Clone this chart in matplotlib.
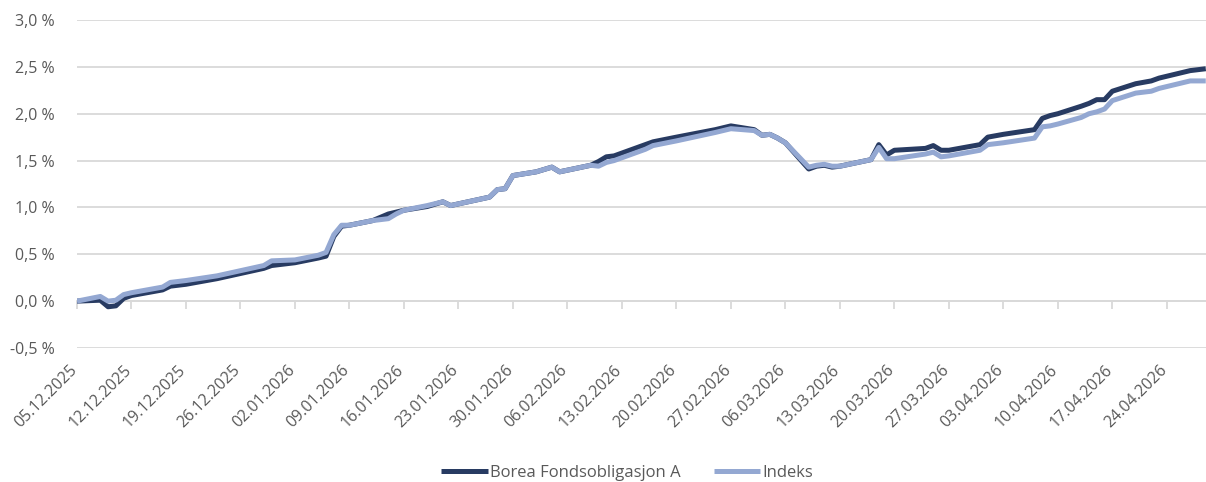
import matplotlib
matplotlib.use("Agg")
import matplotlib.pyplot as plt
import matplotlib.dates as mdates
import matplotlib.transforms as mtransforms
from matplotlib.ticker import FuncFormatter, MultipleLocator
import pandas as pd

# data (percent)
dates = ["05.12.2025", "08.12.2025", "09.12.2025", "10.12.2025", "11.12.2025", "12.12.2025",
         "16.12.2025", "17.12.2025", "19.12.2025", "23.12.2025", "29.12.2025", "30.12.2025",
         "02.01.2026", "05.01.2026", "06.01.2026", "07.01.2026", "08.01.2026", "09.01.2026",
         "12.01.2026", "14.01.2026", "15.01.2026", "16.01.2026", "19.01.2026", "21.01.2026",
         "22.01.2026", "27.01.2026", "28.01.2026", "29.01.2026", "30.01.2026", "02.02.2026",
         "04.02.2026", "05.02.2026", "09.02.2026", "10.02.2026", "11.02.2026", "12.02.2026",
         "13.02.2026", "16.02.2026", "17.02.2026", "20.02.2026", "25.02.2026", "27.02.2026",
         "02.03.2026", "03.03.2026", "04.03.2026", "05.03.2026", "06.03.2026", "09.03.2026",
         "10.03.2026", "11.03.2026", "12.03.2026", "13.03.2026", "17.03.2026", "18.03.2026",
         "19.03.2026", "20.03.2026", "24.03.2026", "25.03.2026", "26.03.2026", "27.03.2026",
         "31.03.2026", "01.04.2026", "03.04.2026", "07.04.2026", "08.04.2026", "09.04.2026",
         "10.04.2026", "13.04.2026", "14.04.2026", "15.04.2026", "16.04.2026", "17.04.2026",
         "20.04.2026", "22.04.2026", "23.04.2026", "27.04.2026", "29.04.2026"]

fund = [0.00, 0.01, -0.06, -0.05, 0.03, 0.06,
        0.12, 0.16, 0.18, 0.24, 0.35, 0.38,
        0.41, 0.46, 0.48, 0.69, 0.80, 0.81,
        0.86, 0.93, 0.95, 0.97, 1.01, 1.06,
        1.02, 1.11, 1.19, 1.20, 1.34, 1.38,
        1.43, 1.38, 1.45, 1.49, 1.54, 1.55,
        1.58, 1.67, 1.70, 1.75, 1.83, 1.87,
        1.83, 1.77, 1.78, 1.74, 1.69, 1.41,
        1.44, 1.45, 1.43, 1.44, 1.51, 1.67,
        1.56, 1.61, 1.63, 1.66, 1.61, 1.61,
        1.67, 1.75, 1.78, 1.83, 1.95, 1.98,
        2.00, 2.08, 2.11, 2.15, 2.15, 2.24,
        2.32, 2.35, 2.38, 2.46, 2.48]

index = [0.00, 0.05, 0.00, 0.01, 0.07, 0.09,
         0.15, 0.20, 0.22, 0.27, 0.38, 0.43,
         0.44, 0.49, 0.52, 0.71, 0.81, 0.81,
         0.86, 0.88, 0.93, 0.97, 1.02, 1.06,
         1.02, 1.11, 1.19, 1.20, 1.34, 1.38,
         1.43, 1.38, 1.45, 1.44, 1.48, 1.50,
         1.53, 1.62, 1.66, 1.71, 1.80, 1.84,
         1.82, 1.77, 1.78, 1.74, 1.69, 1.43,
         1.45, 1.46, 1.44, 1.44, 1.51, 1.64,
         1.52, 1.52, 1.57, 1.59, 1.54, 1.55,
         1.61, 1.67, 1.69, 1.74, 1.86, 1.87,
         1.89, 1.96, 2.00, 2.02, 2.05, 2.14,
         2.22, 2.24, 2.27, 2.35, 2.35]

labels = ["Borea Fondsobligasjon A", "Indeks"]

navy = "#283B62"
light = "#94A8D2"
grey_txt = "#595959"
grid_col = "#D9D9D9"

plt.rcParams['font.family'] = ['Open Sans', 'DejaVu Sans']

x = pd.to_datetime(dates, format="%d.%m.%Y")

fig = plt.figure(figsize=(12.06, 4.82), dpi=100)
ax = fig.add_axes([0.0638, 0.278, 0.936, 0.6805])

ax.plot(x, fund, color=navy, lw=3.6, label=labels[0], solid_capstyle='butt', zorder=3)
ax.plot(x, index, color=light, lw=3.6, label=labels[1], solid_capstyle='butt', zorder=4)

ax.set_ylim(-0.5, 3.0)
ax.yaxis.set_major_locator(MultipleLocator(0.5))
ax.yaxis.set_major_formatter(FuncFormatter(lambda v, p: ("%.1f %%" % v).replace(".", ",")))
ax.grid(axis='y', color=grid_col, lw=1.3)
ax.set_axisbelow(True)
ax.tick_params(axis='y', length=0, pad=16, labelsize=11.5, labelcolor=grey_txt)

start = x[0]
ax.set_xlim(start, x[-1])
ticks = pd.date_range(start, x[-1], freq="7D")

for s in ["top", "right", "left"]:
    ax.spines[s].set_visible(False)
ax.spines["bottom"].set_position(("data", 0))
ax.spines["bottom"].set_color(grid_col)
ax.spines["bottom"].set_linewidth(1.3)
ax.set_xticks(ticks)
ax.tick_params(axis='x', direction='out', length=6, width=1.3, color=grid_col, labelbottom=False)

# date labels sit under the plot area, not on the zero line
sec = ax.secondary_xaxis(0.0)
sec.set_xticks(ticks)
sec.xaxis.set_major_formatter(mdates.DateFormatter("%d.%m.%Y"))
sec.spines["bottom"].set_visible(False)
sec.tick_params(axis='x', length=0, pad=10, labelsize=11.5, labelcolor=grey_txt)
shift = mtransforms.ScaledTranslation(-8 / 100, 0, fig.dpi_scale_trans)
for lab in sec.get_xticklabels():
    lab.set_rotation(45)
    lab.set_ha("right")
    lab.set_va("top")
    lab.set_rotation_mode("anchor")
    lab.set_transform(lab.get_transform() + shift)

fig.legend(loc="center", bbox_to_anchor=(0.52, 0.019), ncol=2, frameon=False,
           fontsize=12, labelcolor=grey_txt, handlelength=2.8, handletextpad=0.1,
           columnspacing=2.0)

plt.savefig("out.png", dpi=100)
